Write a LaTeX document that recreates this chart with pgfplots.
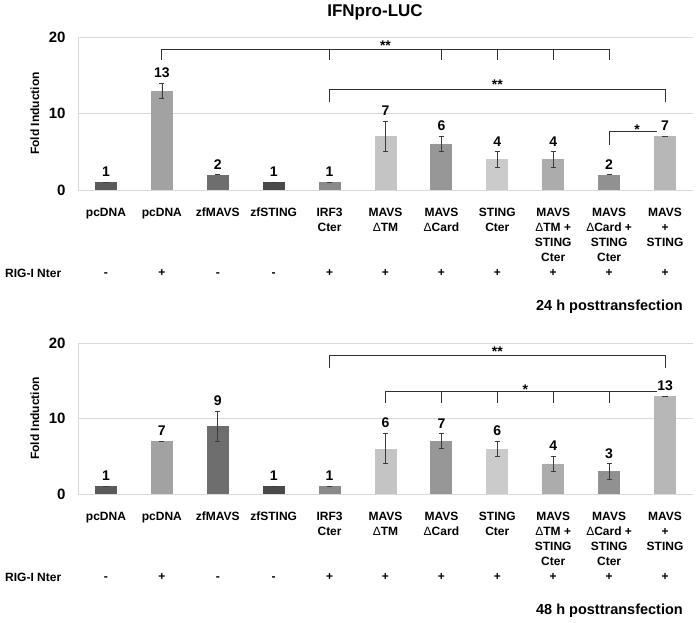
\documentclass[border=0pt]{standalone}
\usepackage{fontspec}
\setmainfont{Liberation Sans}
\usepackage{pgfplots}
\usepackage{pgfplotstable}
\pgfplotsset{compat=1.18}

% bar greys, same order in both panels
\definecolor{b0}{HTML}{5A5A5A}
\definecolor{b1}{HTML}{A2A2A2}
\definecolor{b2}{HTML}{6E6E6E}
\definecolor{b3}{HTML}{4A4A4A}
\definecolor{b4}{HTML}{8A8A8A}
\definecolor{b5}{HTML}{C4C4C4}
\definecolor{b6}{HTML}{979797}
\definecolor{b7}{HTML}{CBCBCB}
\definecolor{b8}{HTML}{ACACAC}
\definecolor{b9}{HTML}{919191}
\definecolor{b10}{HTML}{B7B7B7}
\definecolor{gridgray}{HTML}{D9D9D9}
\definecolor{errgray}{HTML}{3C3C3C}
\definecolor{brk}{HTML}{303030}

% 24 h
\pgfplotstableread{
x y err
0 1 0
1 13 1
2 2 0
3 1 0
4 1 0
5 7 2
6 6 1
7 4 1
8 4 1
9 2 0
10 7 0
}\hfour

% 48 h
\pgfplotstableread{
x y err
0 1 0
1 7 0
2 9 2
3 1 0
4 1 0
5 6 2
6 7 1
7 6 1
8 4 1
9 3 1
10 13 0
}\hforty

\newcommand\cat[5]{\strut#1\\\strut#2\\\strut#3\\\strut#4\\\strut#5}

\pgfplotsset{
  /pgf/number format/assume math mode=true,
  luc/.style={
    scale only axis, width=615pt, clip=false,
    ybar, bar width=22pt,
    xmin=-0.5, xmax=10.5, ymin=0, ymax=20,
    xtick={0,...,10}, ytick={0,10,20},
    axis x line*=bottom, axis y line*=left,
    axis line style={draw=gridgray, -},
    ymajorgrids, grid style={draw=gridgray},
    major tick length=0pt,
    yticklabel style={font=\fontsize{15}{15}\selectfont\bfseries, xshift=-9pt},
    xticklabel style={font=\fontsize{12}{15}\selectfont\bfseries, align=center, yshift=-12pt},
    xticklabels={
      {\cat{pcDNA}{}{}{}{-}},
      {\cat{pcDNA}{}{}{}{+}},
      {\cat{zfMAVS}{}{}{}{-}},
      {\cat{zfSTING}{}{}{}{-}},
      {\cat{IRF3}{Cter}{}{}{+}},
      {\cat{MAVS}{{\mdseries Δ}TM}{}{}{+}},
      {\cat{MAVS}{{\mdseries Δ}Card}{}{}{+}},
      {\cat{STING}{Cter}{}{}{+}},
      {\cat{MAVS}{{\mdseries Δ}TM +}{STING}{Cter}{+}},
      {\cat{MAVS}{{\mdseries Δ}Card +}{STING}{Cter}{+}},
      {\cat{MAVS}{+}{STING}{}{+}}},
    ylabel={Fold Induction},
    every axis y label/.style={at={(axis description cs:-0.07,0.5)}, rotate=90, anchor=center,
      font=\fontsize{12}{14}\selectfont\bfseries},
  },
  onebar/.style={
    fill=b#1, draw=none, bar shift=0pt, restrict x to domain=#1:#1,
    error bars/y dir=both, error bars/y explicit,
    error bars/error bar style={errgray, line width=0.7pt},
    error bars/error mark options={rotate=90, errgray, mark size=2.6pt, line width=0.7pt},
    nodes near coords, point meta=y,
    visualization depends on={\thisrow{err}\as\err},
    every node near coord/.append style={shift={(axis direction cs:0,\err)},
      anchor=south, yshift=2pt, text=black, font=\fontsize{14}{14}\selectfont\bfseries},
  },
  brackets/.style={sharp plot, no markers, draw=brk, line width=0.8pt,
    unbounded coords=jump, forget plot},
}

\begin{document}
\begin{tikzpicture}
\useasboundingbox (0,0) rectangle (697pt,-623pt);

\begin{axis}[luc, height=153pt, at={(78pt,-190pt)}, anchor=south west]
\pgfplotsinvokeforeach{0,...,10}{
  \addplot[onebar=#1] table[x=x, y=y, y error=err] {\hfour};
}
\addplot[brackets] coordinates {
  (1,17) (1,18.4) (9,18.4) (9,17) (4,nan)
  (4,18.4) (4,17) (6,nan) (6,18.4) (6,17) (7,nan)
  (7,18.4) (7,17) (8,nan) (8,18.4) (8,17) (4,nan)
  (4,11.5) (4,13.2) (10,13.2) (10,11.5) (9,nan)
  (9,5.9) (9,7.6) (9.85,7.6)
};
\node[font=\fontsize{14}{14}\selectfont\bfseries, inner sep=0pt, anchor=south, yshift=-1pt] at (axis cs:5,18.4) {**};
\node[font=\fontsize{14}{14}\selectfont\bfseries, inner sep=0pt, anchor=south, yshift=-1pt] at (axis cs:7,13.2) {**};
\node[font=\fontsize{14}{14}\selectfont\bfseries, inner sep=0pt, anchor=south, yshift=-3pt] at (axis cs:9.5,7.6) {*};
\end{axis}

\begin{axis}[luc, height=151pt, at={(78pt,-494pt)}, anchor=south west]
\pgfplotsinvokeforeach{0,...,10}{
  \addplot[onebar=#1] table[x=x, y=y, y error=err] {\hforty};
}
\addplot[brackets] coordinates {
  (4,16.7) (4,18.3) (10,18.3) (10,16.7) (5,nan)
  (5,12.1) (5,13.6) (9.85,13.6) (6,nan)
  (6,13.6) (6,12.1) (7,nan) (7,13.6) (7,12.1) (8,nan)
  (8,13.6) (8,12.1) (9,nan) (9,13.6) (9,12.1)
};
\node[font=\fontsize{14}{14}\selectfont\bfseries, inner sep=0pt, anchor=south, yshift=-1pt] at (axis cs:7,18.3) {**};
\node[font=\fontsize{14}{14}\selectfont\bfseries, inner sep=0pt, anchor=south, yshift=-3pt] at (axis cs:7.5,13.6) {*};
\end{axis}

\node[font=\fontsize{17}{17}\selectfont\bfseries] at (375pt,-12pt) {IFNpro-LUC};
\node[font=\fontsize{12}{12}\selectfont\bfseries, anchor=west, inner sep=0pt] at (5pt,-273pt) {RIG-I Nter};
\node[font=\fontsize{12}{12}\selectfont\bfseries, anchor=west, inner sep=0pt] at (5pt,-577pt) {RIG-I Nter};
\node[font=\fontsize{14.5}{14.5}\selectfont\bfseries, anchor=east, inner sep=0pt] at (683pt,-307pt) {24 h posttransfection};
\node[font=\fontsize{14.5}{14.5}\selectfont\bfseries, anchor=east, inner sep=0pt] at (683pt,-611pt) {48 h posttransfection};
\end{tikzpicture}
\end{document}
